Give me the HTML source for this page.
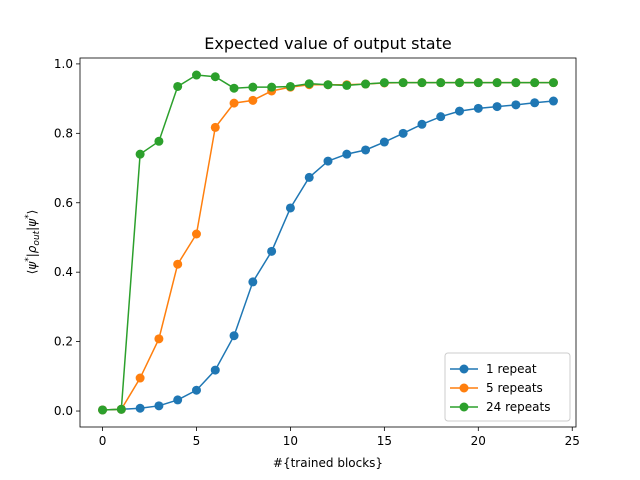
<!DOCTYPE html>
<html><head><meta charset="utf-8"><style>body{margin:0;background:#fff}svg{display:block;font-family:"DejaVu Sans","Liberation Sans",sans-serif}</style></head>
<body>
<svg id="chart" width="640" height="480"></svg>
<script>
const xTicks=[0,5,10,15,20,25];
const yTicks=[0.0,0.2,0.4,0.6,0.8,1.0];
const seriesNames=["1 repeat","5 repeats","24 repeats"];
const seriesColors=["#1f77b4","#ff7f0e","#2ca02c"];
const blocks=[0,1,2,3,4,5,6,7,8,9,10,11,12,13,14,15,16,17,18,19,20,21,22,23,24];
const repeat1=[0.003,0.005,0.008,0.015,0.032,0.06,0.118,0.217,0.372,0.46,0.585,0.673,0.72,0.74,0.752,0.775,0.8,0.826,0.848,0.864,0.872,0.877,0.882,0.888,0.893];
const repeat5=[0.003,0.005,0.095,0.208,0.423,0.51,0.817,0.887,0.895,0.922,0.933,0.94,0.94,0.94,0.942,0.945,0.946,0.946,0.946,0.946,0.946,0.946,0.946,0.946,0.946];
const repeat24=[0.003,0.005,0.74,0.777,0.935,0.968,0.963,0.93,0.933,0.933,0.935,0.943,0.94,0.938,0.942,0.946,0.946,0.946,0.946,0.946,0.946,0.946,0.946,0.946,0.946];
const allSeries=[repeat1,repeat5,repeat24];
const L=80,R=576,T=58,B=427,xmin=-1.2,xmax=25.2,ymin=-0.046,ymax=1.017;
const sx=v=>L+(v-xmin)/(xmax-xmin)*(R-L);
const sy=v=>B-(v-ymin)/(ymax-ymin)*(B-T);
const svg=document.getElementById('chart');const NS="http://www.w3.org/2000/svg";
function mk(tag,attrs,parent){const e=document.createElementNS(NS,tag);for(const k in attrs)e.setAttribute(k,attrs[k]);(parent||svg).appendChild(e);return e;}
let t=mk('text',{x:328,y:49,'text-anchor':'middle','font-size':16,fill:'#000'});t.textContent="Expected value of output state";


xTicks.forEach(v=>{const x=sx(v);mk('line',{x1:x,x2:x,y1:B,y2:B+4,stroke:'#000','stroke-width':0.8});
const tx=mk('text',{x:x,y:B+18,'text-anchor':'middle','font-size':12});tx.textContent=v;

});
yTicks.forEach(v=>{const y=sy(v);mk('line',{x1:L-4,x2:L,y1:y,y2:y,stroke:'#000','stroke-width':0.8});
const tx=mk('text',{x:L-7,y:y+4,'text-anchor':'end','font-size':12});tx.textContent=v.toFixed(1);

});
let xl=mk('text',{x:328,y:467,'text-anchor':'middle','font-size':12});xl.textContent="#{trained blocks}";


let yl=mk('text',{x:0,y:0,'text-anchor':'middle','font-size':12,transform:'translate(36,242) rotate(-90)'});yl.innerHTML='⟨<tspan font-style="italic">ψ</tspan><tspan dy="-5" font-size="9">*</tspan><tspan dy="5">|</tspan><tspan font-style="italic">ρ</tspan><tspan dy="3" font-size="9" font-style="italic">out</tspan><tspan dy="-3">|</tspan><tspan font-style="italic">ψ</tspan><tspan dy="-5" font-size="9">*</tspan><tspan dy="5">⟩</tspan>';


allSeries.forEach((s,i)=>{const g=mk('g',{});


mk('polyline',{points:s.map((v,j)=>sx(blocks[j])+','+sy(v)).join(' '),fill:'none',stroke:seriesColors[i],'stroke-width':1.5},g);
s.forEach((v,j)=>{const c=mk('circle',{cx:sx(blocks[j]),cy:sy(v),r:4.5,fill:seriesColors[i]},g);

});});
mk('rect',{x:L,y:T,width:R-L,height:B-T,fill:'none',stroke:'#000','stroke-width':0.8});
const lg=mk('g',{});


mk('rect',{x:445,y:353,width:125,height:68,rx:3,fill:'#fff','fill-opacity':0.8,stroke:'#ccc'},lg);
seriesNames.forEach((n,i)=>{const y=369+i*19;
mk('line',{x1:450,x2:478,y1:y,y2:y,stroke:seriesColors[i],'stroke-width':1.5},lg);
mk('circle',{cx:464,cy:y,r:4.5,fill:seriesColors[i]},lg);
const tx=mk('text',{x:486,y:y+4,'font-size':12},lg);tx.textContent=n;

});
</script>
</body></html>
